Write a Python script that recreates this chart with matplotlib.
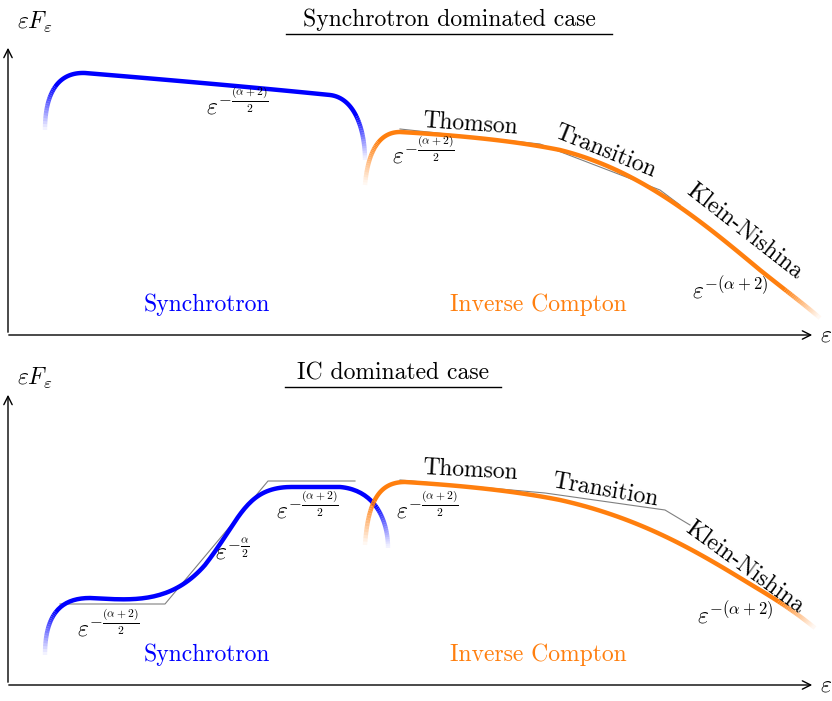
import numpy as np
import matplotlib
matplotlib.use('Agg')
import matplotlib.pyplot as plt
from matplotlib.collections import LineCollection

plt.rcParams['mathtext.fontset'] = 'cm'
plt.rcParams['font.family'] = ['cmr10', 'DejaVu Serif']
plt.rcParams['axes.unicode_minus'] = False

W, H = 832, 701
BLUE = '#0000ff'
ORANGE = '#ff7f0e'

# schematic curves as cubic Bezier segments, pixel coordinates (y down)
top_sync = [[(45, 130), (45, 90), (60, 72), (85, 73)],
            [(85, 73), (170, 80), (250, 87), (330, 95)],
            [(330, 95), (355, 98), (365, 130), (365, 160)]]
top_ic = [[(365, 185), (368, 150), (380, 132), (400, 132)],
          [(400, 132), (470, 136), (520, 142), (560, 150)],
          [(560, 150), (640, 170), (700, 220), (760, 270)],
          [(760, 270), (785, 290), (805, 305), (820, 318)]]
bot_sync = [[(45, 655), (45, 615), (60, 598), (90, 598)],
            [(90, 598), (130, 600), (170, 605), (205, 565)],
            [(205, 565), (240, 520), (245, 488), (290, 487)],
            [(290, 487), (310, 487), (325, 487), (340, 487)],
            [(340, 487), (375, 490), (388, 520), (388, 548)]]
bot_ic = [[(365, 545), (368, 500), (380, 482), (405, 482)],
          [(405, 482), (470, 486), (520, 492), (560, 500)],
          [(560, 500), (650, 520), (710, 560), (760, 590)],
          [(760, 590), (790, 608), (805, 620), (815, 628)]]

# asymptote guide lines
top_guides = [[(400, 129), (540, 144), (660, 190), (680, 205)]]
bot_guides = [[(60, 604), (165, 604), (268, 481), (355, 481)],
              [(400, 480), (545, 493), (665, 510), (690, 525)]]


def bezier(segs, n=40):
    pts = []
    t = np.linspace(0, 1, n)[:, None]
    for p0, c1, c2, p3 in segs:
        p0, c1, c2, p3 = map(np.array, (p0, c1, c2, p3))
        b = ((1 - t) ** 3) * p0 + 3 * ((1 - t) ** 2) * t * c1 + 3 * (1 - t) * t ** 2 * c2 + t ** 3 * p3
        pts.append(b[:-1])
    pts.append(np.array([segs[-1][-1]]))
    return np.vstack(pts)


def faded(ax, segs, color, fade=45):
    pts = bezier(segs)
    d = np.concatenate([[0], np.cumsum(np.hypot(*np.diff(pts, axis=0).T))])
    mid = 0.5 * (d[1:] + d[:-1])
    alpha = np.clip(np.minimum(mid, d[-1] - mid) / fade, 0.05, 1)
    solid = alpha >= 1
    # solid middle part as one line, faded ends as segments
    idx = np.where(solid)[0]
    ax.plot(pts[idx[0]:idx[-1] + 2, 0], pts[idx[0]:idx[-1] + 2, 1], color=color, lw=3.2,
            solid_capstyle='butt')
    keep = ~solid
    rgba = np.array([matplotlib.colors.to_rgba(color, a) for a in alpha[keep]])
    s = np.stack([pts[:-1], pts[1:]], axis=1)[keep]
    ax.add_collection(LineCollection(s, colors=rgba, linewidths=3.2, capstyle='butt'))


fig = plt.figure(figsize=(W / 100, H / 100), dpi=100)
ax = fig.add_axes([0, 0, 1, 1])
ax.set_xlim(0, W)
ax.set_ylim(H, 0)
ax.axis('off')

arrow = dict(arrowstyle='->', lw=1.0, color='black', mutation_scale=15)
for y0, ytop in [(335, 45), (685, 392)]:
    ax.annotate('', xy=(8, ytop), xytext=(8, y0), arrowprops=arrow)
    ax.annotate('', xy=(815, y0), xytext=(6, y0), arrowprops=arrow)
    ax.text(826, y0, r'$\varepsilon$', fontsize=17, ha='center', va='center')
ax.text(35, 22, r'$\varepsilon F_\varepsilon$', fontsize=17, ha='center', va='center')
ax.text(35, 378, r'$\varepsilon F_\varepsilon$', fontsize=17, ha='center', va='center')

for y, title, x0, x1 in [(20, 'Synchrotron dominated case', 286, 612),
                         (373, 'IC dominated case', 285, 501)]:
    ax.text((x0 + x1) / 2, y, title, fontsize=17, ha='center', va='center')
    ax.plot([x0, x1], [y + 14, y + 14], color='black', lw=1)

for g in top_guides + bot_guides:
    g = np.array(g)
    ax.plot(g[:, 0], g[:, 1], color='gray', lw=0.8)

faded(ax, top_sync, BLUE)
faded(ax, top_ic, ORANGE)
faded(ax, bot_sync, BLUE)
faded(ax, bot_ic, ORANGE)

half = r'$\varepsilon^{-\frac{(\alpha+2)}{2}}$'
full = r'$\varepsilon^{-(\alpha+2)}$'
labels = [(237, 103, half), (423, 152, half), (730, 290, full),
          (108, 625, half), (232, 552, r'$\varepsilon^{-\frac{\alpha}{2}}$'),
          (307, 507, half), (427, 507, half), (735, 615, full)]
for x, y, s in labels:
    ax.text(x, y, s, fontsize=17, ha='center', va='center')

regimes = [(470, 124, 'Thomson', -4), (605, 152, 'Transition', -22), (745, 232, 'Klein-Nishina', -38),
           (470, 470, 'Thomson', -3), (605, 490, 'Transition', -10), (745, 567, 'Klein-Nishina', -36)]
for x, y, s, r in regimes:
    ax.text(x, y, s, fontsize=17, ha='center', va='center', rotation=r, rotation_mode='anchor')

for y in (305, 655):
    ax.text(207, y, 'Synchrotron', fontsize=17, color=BLUE, ha='center', va='center')
    ax.text(538, y, 'Inverse Compton', fontsize=17, color=ORANGE, ha='center', va='center')

fig.savefig('out.png', dpi=100)
